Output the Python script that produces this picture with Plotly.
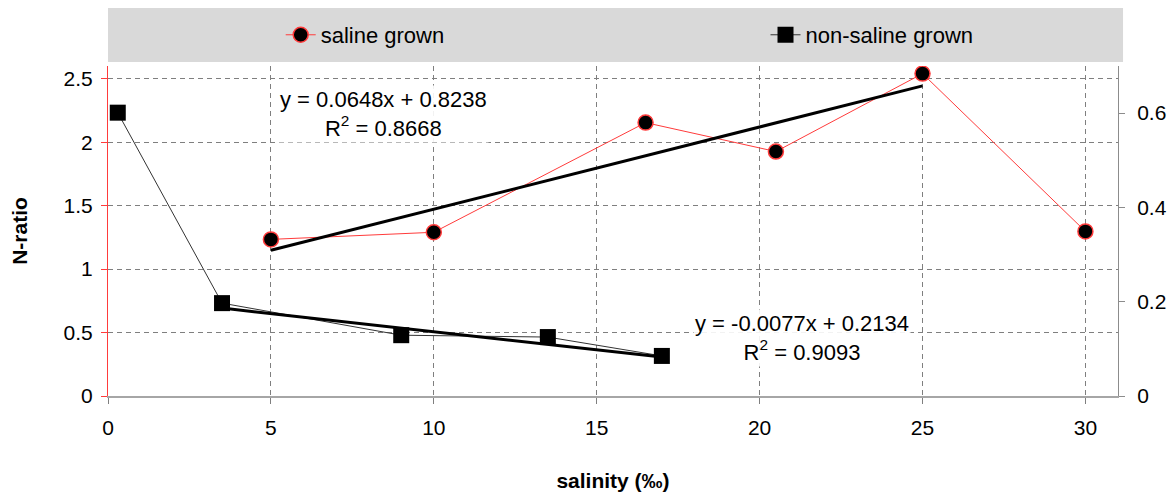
import plotly.graph_objects as go

# ---- data ----
saline_x = [5, 10, 16.5, 20.5, 25, 30]
saline_y = [1.234, 1.29, 2.154, 1.926, 2.54, 1.297]

nonsaline_x = [0.3, 3.5, 9, 13.5, 17]
nonsaline_y = [0.601, 0.197, 0.129, 0.125, 0.085]

saline_fit = {"slope": 0.0648, "intercept": 0.8238, "r2": 0.8668, "x": [5, 25]}
nonsaline_fit = {"slope": -0.0077, "intercept": 0.2134, "r2": 0.9093, "x": [3.5, 17]}

x_ticks = [0, 5, 10, 15, 20, 25, 30]
left_ticks = [0, 0.5, 1, 1.5, 2, 2.5]
right_ticks = [0, 0.2, 0.4, 0.6]

FONT = "Liberation Sans, Arial, sans-serif"
RED = "#ff3b3b"
GRID = "#7f7f7f"

fig = go.Figure()

# fitted lines from stated coefficients
sf_y = [saline_fit["slope"] * x + saline_fit["intercept"] for x in saline_fit["x"]]
nf_y = [nonsaline_fit["slope"] * x + nonsaline_fit["intercept"] for x in nonsaline_fit["x"]]

fig.add_trace(go.Scatter(x=nonsaline_x, y=nonsaline_y, yaxis="y2", mode="lines+markers",
                         name="non-saline grown", legend="legend2",
                         line=dict(color="#333333", width=1),
                         marker=dict(symbol="square", size=16, color="black",
                                     line=dict(color="black", width=0))))
fig.add_trace(go.Scatter(x=nonsaline_fit["x"], y=nf_y, yaxis="y2", mode="lines",
                         showlegend=False, line=dict(color="black", width=3)))
fig.add_trace(go.Scatter(x=saline_x, y=saline_y, mode="lines+markers",
                         name="saline grown", legend="legend",
                         line=dict(color=RED, width=1),
                         marker=dict(symbol="circle", size=15, color="black",
                                     line=dict(color=RED, width=1.5))))
fig.add_trace(go.Scatter(x=saline_fit["x"], y=sf_y, mode="lines",
                         showlegend=False, line=dict(color="black", width=3)))

TICKSZ = 21
TXTSZ = 22

fig.update_layout(
    width=1170, height=492,
    margin=dict(l=108, r=52, t=66, b=96, autoexpand=False),
    paper_bgcolor="white", plot_bgcolor="white",
    font=dict(family=FONT, size=TXTSZ, color="black"),
    xaxis=dict(range=[0, 31], tickvals=x_ticks, showgrid=True, gridcolor=GRID,
               griddash="5px,4px", gridwidth=1, zeroline=False, automargin=False,
               showline=True, linecolor="#a6a6a6", linewidth=1.5,
               ticks="outside", ticklen=6, tickcolor=GRID,
               tickfont=dict(size=TICKSZ), ticklabelstandoff=6,
               title=dict(text="<b>salinity (‰)</b>", font=dict(size=21), standoff=38)),
    yaxis=dict(range=[0, 2.6], tickvals=left_ticks, ticktext=["0", "0.5", "1", "1.5", "2", "2.5"],
               showgrid=True, gridcolor=GRID, griddash="5px,4px", gridwidth=1,
               zeroline=False, showline=True, linecolor=RED, linewidth=1, automargin=False,
               ticks="outside", ticklen=6, tickcolor=RED, tickfont=dict(size=TICKSZ),
               ticklabelstandoff=4,
               title=dict(text="<b>N-ratio</b>", font=dict(size=21), standoff=30)),
    yaxis2=dict(range=[0, 0.7], tickvals=right_ticks, ticktext=["0", "0.2", "0.4", "0.6"],
                overlaying="y", side="right", showgrid=False, zeroline=False, automargin=False,
                showline=True, linecolor="#8c8c8c", linewidth=1,
                ticks="outside", ticklen=6, tickcolor="#8c8c8c", tickfont=dict(size=TICKSZ),
                ticklabelstandoff=8),
    legend=dict(x=0.171, y=1.094, xanchor="left", yanchor="middle", orientation="h",
                bgcolor="rgba(0,0,0,0)", font=dict(size=TXTSZ)),
    legend2=dict(x=0.651, y=1.094, xanchor="left", yanchor="middle", orientation="h",
                 bgcolor="rgba(0,0,0,0)", font=dict(size=TXTSZ)),
    shapes=[dict(type="rect", xref="paper", yref="paper", x0=0, x1=1.005,
                 y0=1.012, y1=1.176, fillcolor="#d9d9d9", line=dict(width=0), layer="below")],
    annotations=[
        dict(x=8.45, y=2.225, xref="x", yref="y", showarrow=False,
             text=f"y = {saline_fit['slope']}x + {saline_fit['intercept']}<br>R<sup>2</sup> = {saline_fit['r2']}",
             align="center", bgcolor="rgba(255,255,255,0.9)", font=dict(size=TXTSZ)),
        dict(x=21.3, y=0.123, xref="x", yref="y2", showarrow=False,
             text=f"y = {nonsaline_fit['slope']}x + {nonsaline_fit['intercept']}<br>R<sup>2</sup> = {nonsaline_fit['r2']}",
             align="center", bgcolor="rgba(255,255,255,0.9)", font=dict(size=TXTSZ)),
    ],
)

fig.write_html("out.html")
